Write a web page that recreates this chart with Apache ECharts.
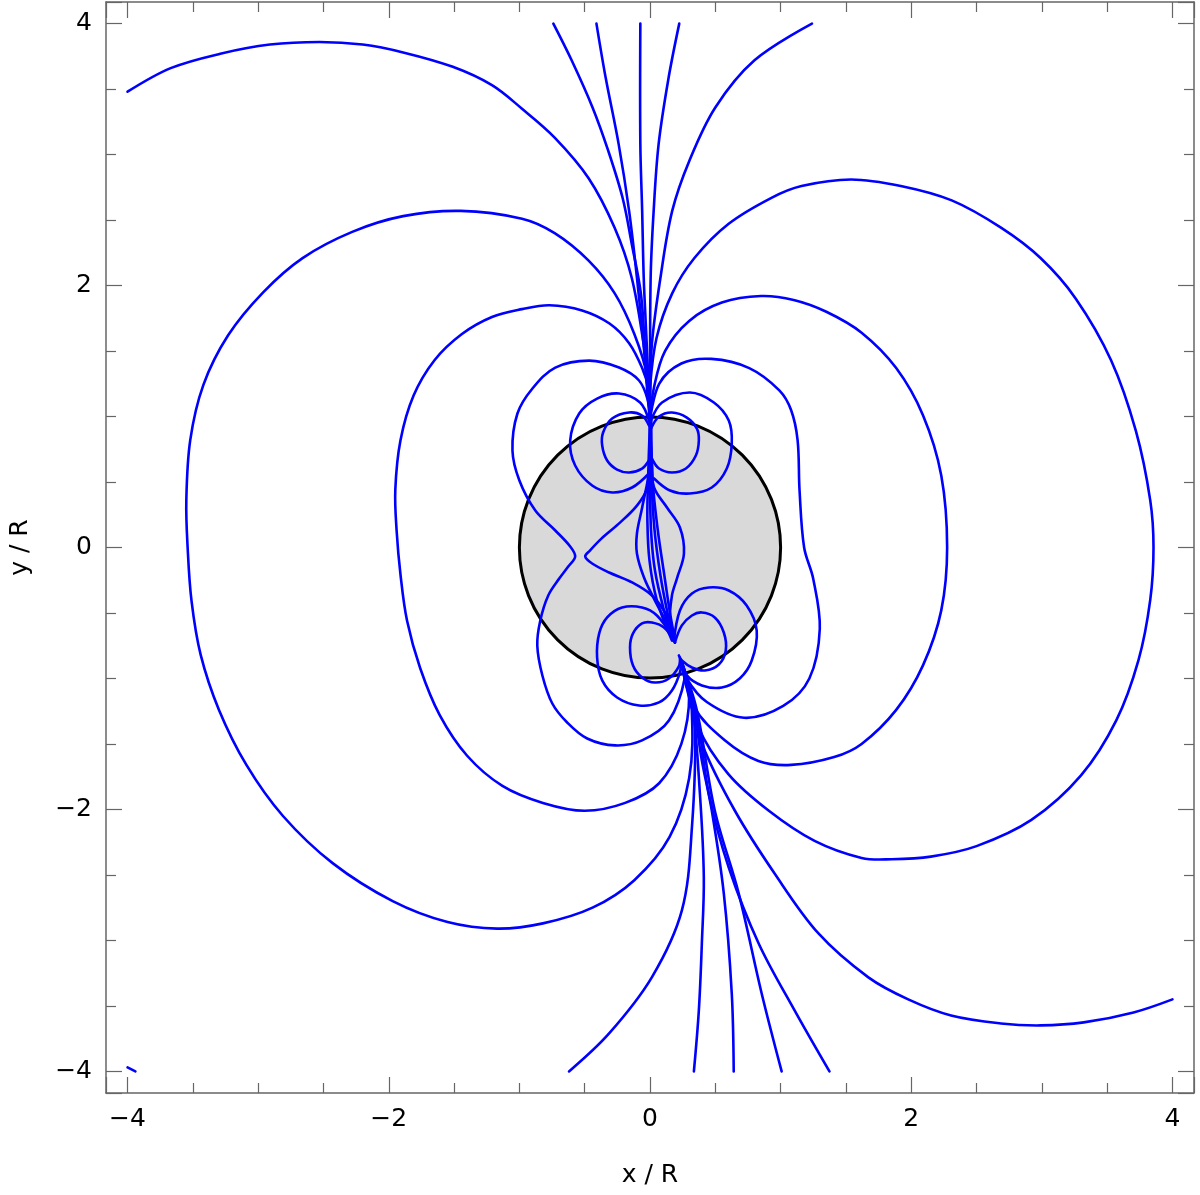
<!DOCTYPE html>
<html>
<head>
<meta charset="utf-8">
<title>field lines</title>
<script src="https://cdn.jsdelivr.net/npm/echarts@6/dist/echarts.min.js"></script>
<style>
  html, body { margin: 0; padding: 0; background: #fff; }
  #chart { width: 1200px; height: 1195px; }
</style>
</head>
<body>
<div id="chart"></div>
<script>
// axis range (x / R and y / R)
const axisMin = -4.165;
const axisMax = 4.165;

// sphere: centre x, centre y, radius
const sphere = [[0, 0, 1]];

// open lines running up to the top edge
const openTop1 = [[-0.74,4.0],[-0.6,3.72],[-0.44,3.36],[-0.32,3.03],[-0.21,2.67],[-0.14,2.32],[-0.07,1.94],[-0.04,1.56],[-0.01,1.22],[0,0.98]];
const openTop2 = [[-0.41,4.0],[-0.34,3.59],[-0.24,3.08],[-0.16,2.57],[-0.1,2.06],[-0.05,1.56],[-0.015,1.12],[0,0.98]];
const openTop3 = [[-0.074,4.0],[-0.074,3.08],[-0.06,2.57],[-0.048,2.06],[-0.03,1.66],[-0.01,1.22],[0,0.98]];
const openTop4 = [[0.224,4.0],[0.143,3.59],[0.066,3.08],[0.028,2.57],[0.005,2.06],[0,1.12],[0,0.98]];
const openTop5 = [[1.24,4.0],[0.8,3.72],[0.5,3.36],[0.3,2.95],[0.17,2.57],[0.08,2.06],[0.015,1.56],[0,1.12],[0,0.98]];
const openLeft = [[-4.0,3.48],[-3.67,3.66],[-3.29,3.77],[-2.91,3.84],[-2.53,3.86],[-2.2,3.84],[-1.89,3.78],[-1.51,3.67],[-1.21,3.53],[-0.98,3.35],[-0.73,3.13],[-0.47,2.82],[-0.27,2.44],[-0.14,2.06],[-0.05,1.56],[-0.01,1.22],[0,0.98]];

// big loops from the upper to the lower focus
const loopLeftBig = [[0,0.98],[-0.02,1.3],[-0.12,1.63],[-0.27,1.94],[-0.47,2.19],[-0.73,2.4],[-0.98,2.51],[-1.45,2.57],[-1.89,2.53],[-2.28,2.41],[-2.66,2.21],[-2.96,1.95],[-3.23,1.62],[-3.42,1.24],[-3.52,0.82],[-3.55,0.36],[-3.54,0],[-3.51,-0.41],[-3.44,-0.82],[-3.3,-1.24],[-3.09,-1.66],[-2.81,-2.05],[-2.43,-2.41],[-1.97,-2.7],[-1.55,-2.86],[-1.17,-2.91],[-0.82,-2.87],[-0.44,-2.75],[-0.12,-2.54],[0.15,-2.21],[0.3,-1.76],[0.32,-1.24],[0.27,-0.99],[0.235,-0.855]];
const loopLeftMid = [[0,0.98],[-0.015,1.22],[-0.06,1.37],[-0.16,1.56],[-0.31,1.71],[-0.52,1.81],[-0.77,1.85],[-0.98,1.82],[-1.21,1.76],[-1.44,1.63],[-1.65,1.43],[-1.81,1.16],[-1.91,0.82],[-1.95,0.44],[-1.94,0.13],[-1.91,-0.21],[-1.86,-0.56],[-1.76,-0.92],[-1.61,-1.28],[-1.4,-1.59],[-1.13,-1.82],[-0.82,-1.95],[-0.5,-2.01],[-0.19,-1.95],[0.07,-1.8],[0.24,-1.5],[0.3,-1.12],[0.235,-0.855]];
const loopLeftKink = [[0,0.97],[-0.015,1.12],[-0.084,1.275],[-0.237,1.374],[-0.466,1.427],[-0.725,1.374],[-0.9,1.214],[-1.015,1.023],[-1.053,0.74],[-1.0,0.511],[-0.878,0.282],[-0.725,0.13],[-0.611,0.008],[-0.573,-0.069],[-0.626,-0.145],[-0.695,-0.237],[-0.779,-0.366],[-0.84,-0.557],[-0.863,-0.748],[-0.824,-0.977],[-0.748,-1.191],[-0.634,-1.336],[-0.481,-1.458],[-0.267,-1.511],[-0.061,-1.473],[0.145,-1.321],[0.267,-0.992],[0.235,-0.855]];
const loopRightBig = [[0,0.98],[0,1.22],[0.05,1.6],[0.17,1.94],[0.34,2.21],[0.6,2.47],[0.93,2.67],[1.16,2.76],[1.54,2.81],[1.92,2.76],[2.31,2.65],[2.69,2.44],[2.99,2.21],[3.26,1.9],[3.53,1.43],[3.72,0.89],[3.83,0.36],[3.855,0],[3.83,-0.4],[3.74,-0.86],[3.57,-1.32],[3.3,-1.74],[2.92,-2.08],[2.5,-2.28],[2.15,-2.36],[1.85,-2.38],[1.62,-2.37],[1.26,-2.24],[0.91,-2.01],[0.6,-1.73],[0.37,-1.37],[0.235,-0.855]];
const loopRightMid = [[0,0.98],[0.03,1.22],[0.115,1.5],[0.3,1.73],[0.55,1.87],[0.85,1.92],[1.1,1.89],[1.35,1.8],[1.62,1.64],[1.885,1.37],[2.09,1.01],[2.23,0.55],[2.275,0],[2.23,-0.48],[2.09,-0.9],[1.885,-1.24],[1.62,-1.5],[1.41,-1.6],[1.08,-1.66],[0.83,-1.63],[0.57,-1.47],[0.34,-1.22],[0.235,-0.855]];
const loopRightWavy = [[0,0.97],[0.07,1.25],[0.24,1.405],[0.47,1.44],[0.76,1.37],[0.99,1.2],[1.08,1.05],[1.13,0.82],[1.145,0.435],[1.18,0],[1.25,-0.24],[1.3,-0.62],[1.22,-1.0],[1.02,-1.21],[0.72,-1.3],[0.435,-1.18],[0.28,-1.0],[0.235,-0.855]];

// lines inside the sphere
const crossLine = [[0,0.97],[0,0.63],[-0.023,0.45],[-0.1,0.32],[-0.23,0.19],[-0.37,0.07],[-0.46,-0.023],[-0.496,-0.069],[-0.443,-0.122],[-0.313,-0.191],[-0.137,-0.267],[0.015,-0.366],[0.115,-0.496],[0.168,-0.618],[0.191,-0.725]];
const lensLeft = [[0,0.97],[0,0.63],[-0.06,0.305],[-0.1,0.107],[-0.1,-0.046],[-0.046,-0.229],[0.038,-0.405],[0.13,-0.58],[0.191,-0.725]];
const lensRight = [[0,0.97],[0.015,0.63],[0.031,0.458],[0.13,0.305],[0.229,0.153],[0.26,-0.046],[0.206,-0.237],[0.168,-0.366],[0.153,-0.573],[0.191,-0.725]];
const bundle1 = [[0,0.97],[-0.015,0.511],[-0.02,0.206],[-0.004,-0.099],[0.053,-0.405],[0.168,-0.71]];
const bundle2 = [[0,0.97],[0,0.511],[0.008,0.13],[0.038,-0.176],[0.107,-0.481],[0.176,-0.71]];
const bundle3 = [[0.008,0.97],[0.012,0.511],[0.035,0.13],[0.08,-0.214],[0.13,-0.481],[0.183,-0.71]];
const bundle4 = [[0.008,0.97],[0.02,0.511],[0.06,0.13],[0.11,-0.214],[0.15,-0.481],[0.191,-0.71]];

// small loops at the upper focus
const capTopLeftOuter = [[-0.008,0.969],[-0.076,1.107],[-0.237,1.176],[-0.405,1.137],[-0.542,1.023],[-0.611,0.817],[-0.573,0.626],[-0.443,0.473],[-0.29,0.42],[-0.137,0.458],[-0.008,0.565]];
const capTopLeftInner = [[-0.008,0.931],[-0.061,1.008],[-0.16,1.031],[-0.29,0.985],[-0.359,0.878],[-0.366,0.779],[-0.328,0.664],[-0.252,0.595],[-0.16,0.573],[-0.061,0.603],[-0.008,0.664]];
const capTopRightOuter = [[0.008,0.969],[0.092,1.107],[0.305,1.183],[0.489,1.107],[0.603,0.969],[0.626,0.794],[0.588,0.603],[0.473,0.458],[0.305,0.412],[0.153,0.435],[0.031,0.527]];
const capTopRightInner = [[0.008,0.908],[0.069,1.0],[0.168,1.031],[0.282,0.992],[0.359,0.908],[0.374,0.817],[0.351,0.702],[0.275,0.603],[0.168,0.573],[0.069,0.603],[0.015,0.679]];

// small loops at the lower focus
const capLowRightInner = [[0.191,-0.725],[0.244,-0.595],[0.321,-0.519],[0.397,-0.496],[0.496,-0.534],[0.565,-0.649],[0.58,-0.786],[0.527,-0.893],[0.42,-0.939],[0.321,-0.916],[0.244,-0.863],[0.221,-0.824]];
const capLowRightOuter = [[0.183,-0.71],[0.229,-0.481],[0.321,-0.351],[0.45,-0.305],[0.603,-0.328],[0.74,-0.443],[0.817,-0.634],[0.779,-0.863],[0.687,-1.0],[0.55,-1.069],[0.397,-1.053],[0.282,-0.977],[0.237,-0.863]];
const capLowLeftInner = [[0.183,-0.71],[0.107,-0.611],[0.015,-0.573],[-0.061,-0.58],[-0.13,-0.656],[-0.153,-0.763],[-0.13,-0.901],[-0.061,-0.992],[0.038,-1.031],[0.145,-1.0],[0.221,-0.908],[0.229,-0.84]];
const capLowLeftOuter = [[0.176,-0.687],[0.053,-0.519],[-0.061,-0.458],[-0.214,-0.458],[-0.328,-0.534],[-0.389,-0.656],[-0.405,-0.84],[-0.366,-1.015],[-0.252,-1.145],[-0.084,-1.206],[0.069,-1.183],[0.168,-1.092],[0.229,-0.954],[0.237,-0.863]];

// open lines running down to the bottom / right edge
const openBottom1 = [[0.237,-0.863],[0.29,-1.092],[0.344,-1.374],[0.321,-2.137],[0.244,-2.771],[0.015,-3.28],[-0.313,-3.71],[-0.62,-4.0]];
const openBottom2 = [[0.237,-0.863],[0.321,-1.168],[0.382,-1.878],[0.412,-2.519],[0.397,-3.023],[0.374,-3.534],[0.336,-4.0]];
const openBottom3 = [[0.237,-0.863],[0.336,-1.244],[0.397,-1.626],[0.473,-2.008],[0.565,-2.641],[0.626,-3.405],[0.641,-4.0]];
const openBottom4 = [[0.237,-0.863],[0.359,-1.244],[0.496,-2.008],[0.679,-2.641],[0.855,-3.405],[1.008,-4.0]];
const openBottom5 = [[0.237,-0.863],[0.359,-1.282],[0.45,-1.878],[0.603,-2.443],[0.832,-3.023],[1.107,-3.534],[1.374,-4.0]];
const openBottomRight = [[0.237,-0.863],[0.321,-1.168],[0.397,-1.496],[0.649,-2.008],[0.954,-2.489],[1.29,-2.947],[1.672,-3.282],[1.977,-3.45],[2.305,-3.573],[2.687,-3.634],[2.992,-3.649],[3.321,-3.626],[3.702,-3.55],[4.0,-3.45]];
const cornerStub = [[-4.0,-3.97],[-3.94,-4.0]];

const fieldLines = [
  openTop1, openTop2, openTop3, openTop4, openTop5, openLeft,
  loopLeftBig, loopLeftMid, loopLeftKink, loopRightBig, loopRightMid, loopRightWavy,
  crossLine, lensLeft, lensRight, bundle1, bundle2, bundle3, bundle4,
  capTopLeftOuter, capTopLeftInner, capTopRightOuter, capTopRightInner,
  capLowRightInner, capLowRightOuter, capLowLeftInner, capLowLeftOuter,
  openBottom1, openBottom2, openBottom3, openBottom4, openBottom5, openBottomRight, cornerStub
];

const font = 'DejaVu Sans';
const frameColor = '#666';
const lineBlue = '#0000ff';

function tickLabel(v) {
  if (Math.abs(v % 2) > 1e-9) return '';
  return String(v).replace('-', '\u2212');
}

function makeAxis(pos, withLabels, name, gap) {
  return {
    type: 'value',
    position: pos,
    min: axisMin,
    max: axisMax,
    splitNumber: 4,
    name: withLabels ? name : '',
    nameLocation: 'middle',
    nameGap: gap,
    nameTextStyle: { fontFamily: font, fontSize: 25, color: '#000' },
    axisLine: { show: true, onZero: false, lineStyle: { color: frameColor, width: 1.5 } },
    axisTick: { show: true, inside: true, length: 16, lineStyle: { color: frameColor, width: 1.2 } },
    minorTick: { show: true, splitNumber: 4, length: 10, lineStyle: { color: frameColor, width: 1.2 } },
    splitLine: { show: false },
    axisLabel: {
      show: withLabels,
      fontFamily: font,
      fontSize: 25,
      color: '#000',
      margin: 14,
      showMinLabel: false,
      showMaxLabel: false,
      formatter: tickLabel
    }
  };
}

const chart = echarts.init(document.getElementById('chart'));

const series = [{
  type: 'custom',
  data: sphere,
  z: 1,
  silent: true,
  renderItem: function (params, api) {
    const c = api.coord([api.value(0), api.value(1)]);
    const r = api.size([api.value(2), api.value(2)])[0];
    return {
      type: 'circle',
      shape: { cx: c[0], cy: c[1], r: r },
      style: { fill: '#d9d9d9', stroke: '#000', lineWidth: 3 }
    };
  }
}];

// each field line is one smooth polyline through its points (placed by the axes)
fieldLines.forEach(function (line) {
  series.push({
    type: 'custom',
    data: line,
    z: 2,
    silent: true,
    clip: true,
    renderItem: function (params, api) {
      if (params.dataIndex !== 0) return null;
      const pts = line.map(function (p) { return api.coord(p); });
      return {
        type: 'polyline',
        shape: { points: pts, smooth: 0.35 },
        style: { stroke: lineBlue, lineWidth: 2.6, fill: 'none', lineJoin: 'round', lineCap: 'round' }
      };
    }
  });
});

chart.setOption({
  animation: false,
  backgroundColor: '#fff',
  grid: { left: 103, right: 6, top: 2, bottom: 102 },
  xAxis: [makeAxis('bottom', true, 'x / R', 70), makeAxis('top', false, '', 0)],
  yAxis: [makeAxis('left', true, 'y / R', 73), makeAxis('right', false, '', 0)],
  series: series
});
</script>
</body>
</html>
